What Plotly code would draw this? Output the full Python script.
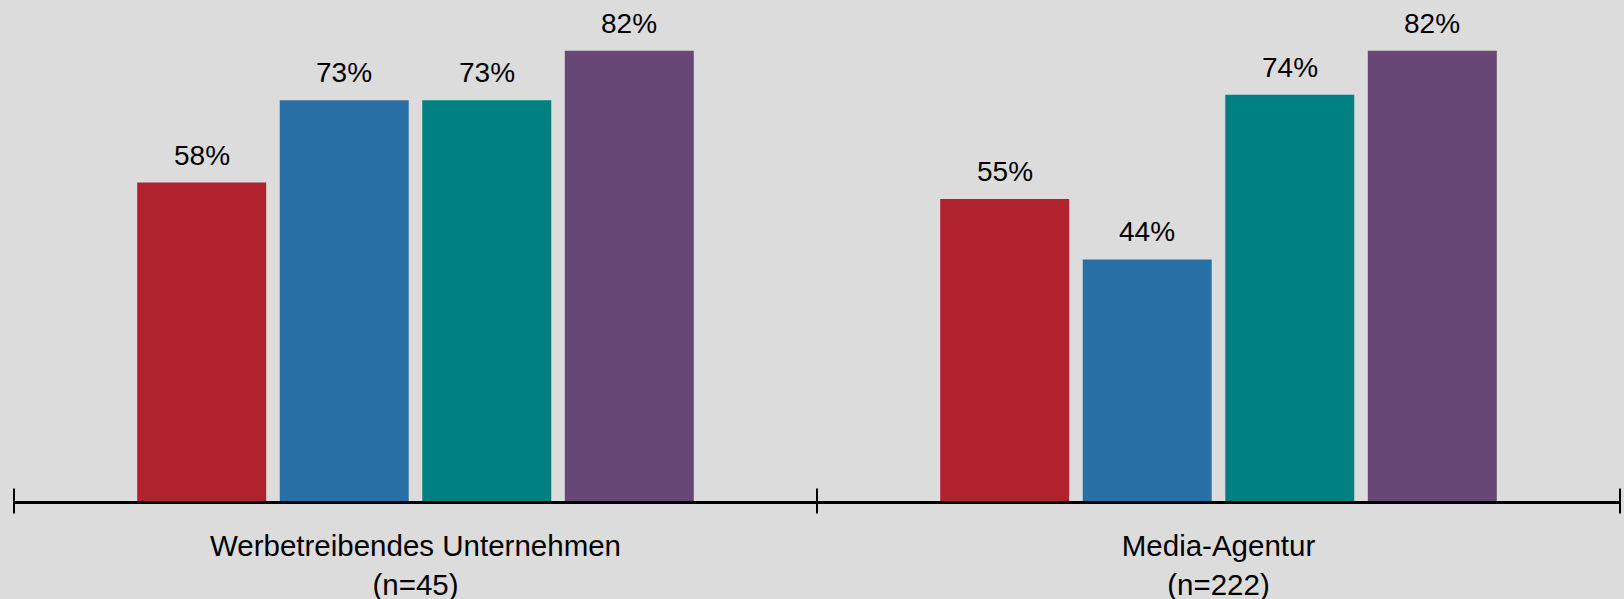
import plotly.graph_objects as go

# Respondent groups shown on the x axis
categories = ["Werbetreibendes Unternehmen<br>(n=45)", "Media-Agentur<br>(n=222)"]

# Share of respondents per series (percent), one list per bar colour
series_names = ["Reihe 1", "Reihe 2", "Reihe 3", "Reihe 4"]
series_values = [
    [58, 55],
    [73, 44],
    [73, 74],
    [82, 82],
]
series_colors = ["#B0232E", "#286FA5", "#008080", "#664775"]

BARGAP = 0.29
BARGROUPGAP = 0.095
FONT = "Liberation Sans, Arial, sans-serif"

fig = go.Figure()
for name, vals, color in zip(series_names, series_values, series_colors):
    fig.add_trace(go.Bar(
        x=categories,
        y=vals,
        name=name,
        marker=dict(color=color, line=dict(width=0)),
        hoverinfo="skip",
    ))

# Crossing tick marks at the category boundaries, drawn on an overlaid linear axis
boundaries = [b - 0.5 for b in range(len(categories) + 1)]
fig.add_trace(go.Scatter(
    x=boundaries, y=[0] * len(boundaries), xaxis="x2", mode="markers",
    marker=dict(symbol="line-ns", size=18, color="#000000",
                line=dict(color="#000000", width=2)),
    cliponaxis=False, hoverinfo="skip", showlegend=False,
))

# Value labels above each bar, placed at the centre of its slot in the group
n = len(series_values)
annotations = []
for i, vals in enumerate(series_values):
    offset = (i - (n - 1) / 2) * (1 - BARGAP) / n
    for c, v in enumerate(vals):
        annotations.append(dict(
            x=c + offset, y=v, xref="x", yref="y",
            text=f"{v}%", showarrow=False,
            yanchor="bottom", yshift=10,
            font=dict(family=FONT, size=28, color="#000000"),
        ))

fig.update_layout(
    barmode="group",
    bargap=BARGAP,
    bargroupgap=BARGROUPGAP,
    width=1624, height=599,
    margin=dict(l=14, r=4, t=0, b=98),
    paper_bgcolor="#DCDCDC",
    plot_bgcolor="#DCDCDC",
    showlegend=False,
    annotations=annotations,
    font=dict(family=FONT, size=28, color="#000000"),
    xaxis=dict(
        type="category",
        tickson="boundaries",
        ticks="outside", ticklen=9, tickwidth=2, tickcolor="#000000",
        showline=True, linecolor="#000000", linewidth=2.5,
        showgrid=False, zeroline=False,
        automargin=False,
        ticklabelstandoff=17,
        tickfont=dict(family=FONT, size=29.5, color="#000000"),
    ),
    xaxis2=dict(
        type="linear", overlaying="x", anchor="y",
        range=[boundaries[0], boundaries[-1]],
        visible=False, showgrid=False, zeroline=False,
    ),
    yaxis=dict(
        range=[0, 91.25], visible=False, showgrid=False, zeroline=False,
        automargin=False,
    ),
)

fig.write_html("out.html")
